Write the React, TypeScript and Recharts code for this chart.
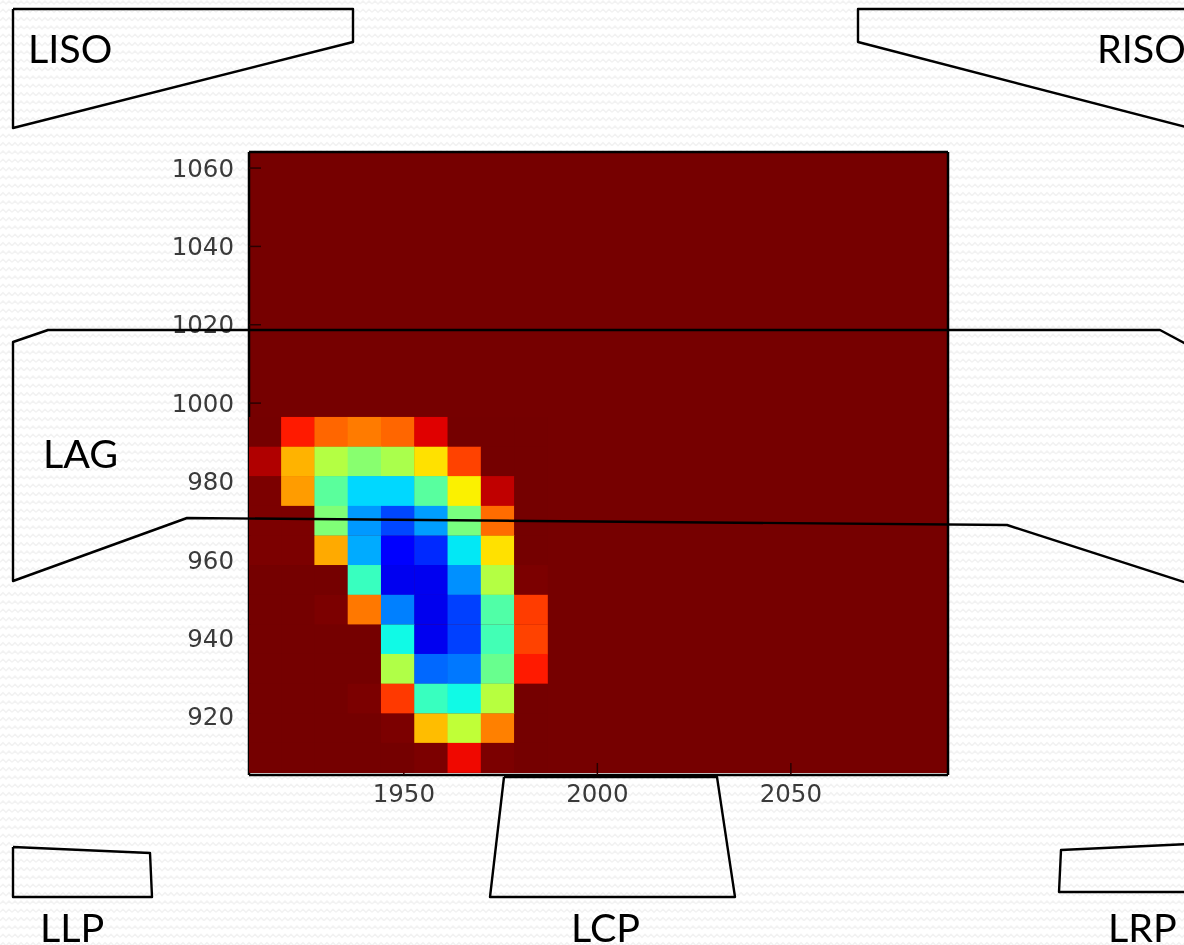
import { ScatterChart, Scatter, XAxis, YAxis, ReferenceArea } from "recharts";

const X_TICKS = [1950, 2000, 2050];
const Y_TICKS = [920, 940, 960, 980, 1000, 1020, 1040, 1060];

// bin centres of the part of the grid that isn't flat background
const X_BINS = [1914.0, 1922.6, 1931.2, 1939.8, 1948.4, 1957.0, 1965.6, 1974.2, 1982.8];
const Y_BINS = [992.7, 985.1, 977.6, 970.0, 962.4, 954.9, 947.3, 939.7, 932.2, 924.6, 917.0, 909.5];

// normalised values, one row per Y_BINS entry (1 is the dark red background)
const HEAT = [
  [1, 0.883, 0.802, 0.78, 0.802, 0.915, 1, 1, 1],
  [0.953, 0.72, 0.569, 0.515, 0.557, 0.672, 0.84, 1, 1],
  [0.995, 0.745, 0.46, 0.337, 0.337, 0.457, 0.655, 0.94, 1],
  [0.995, 0.995, 0.505, 0.275, 0.195, 0.28, 0.496, 0.796, 1],
  [0.995, 0.995, 0.73, 0.293, 0.12, 0.165, 0.352, 0.672, 1],
  [1, 1, 1, 0.418, 0.097, 0.097, 0.266, 0.569, 0.995],
  [1, 1, 0.995, 0.783, 0.25, 0.095, 0.1875, 0.447, 0.846],
  [1, 1, 1, 1, 0.37, 0.097, 0.1875, 0.43, 0.84],
  [1, 1, 1, 1, 0.564, 0.227, 0.243, 0.477, 0.883],
  [1, 1, 1, 0.995, 0.85, 0.418, 0.37, 0.573, 1],
  [1, 1, 1, 1, 0.995, 0.71, 0.583, 0.775, 1],
  [1, 1, 1, 1, 1, 0.995, 0.902, 0.995, 1],
];

const cells = HEAT.flatMap((row, r) =>
  row.map((v, c) => ({ x: X_BINS[c], y: Y_BINS[r], v }))
);

const CELL_W = 33.3;
const CELL_H = 29.52;

const lerp = (v: number, a: number, b: number) => Math.min(1, Math.max(0, (v - a) / (b - a)));

// matplotlib jet, ending on the darker red of the picture
function jet(v: number) {
  let red = lerp(v, 0.35, 0.66);
  if (v > 0.89) red = 1 - lerp(v, 0.89, 1) * 0.54;
  let green = lerp(v, 0.125, 0.375);
  if (v > 0.64) green = 1 - lerp(v, 0.64, 0.91);
  let blue = 0.5 + lerp(v, 0, 0.11) * 0.5;
  if (v > 0.34) blue = 1 - lerp(v, 0.34, 0.65);
  return `rgb(${Math.round(red * 255)},${Math.round(green * 255)},${Math.round(blue * 255)})`;
}

const HeatCell = (props: any) => (
  <rect
    x={props.cx - CELL_W / 2}
    y={props.cy - CELL_H / 2}
    width={CELL_W + 0.4}
    height={CELL_H + 0.4}
    fill={jet(props.payload.v)}
  />
);

const TICK_STYLE = { fontSize: 24.5, fill: "#3a3a3a", fontFamily: "DejaVu Sans" };
const TICK_LINE = { stroke: "#2a0000", strokeWidth: 1.5 };

const OUTLINES = [
  "13,9 353,9 353,42 13,128 13,9",
  "1190,9 858,9 858,42 1190,128",
  "1190,346 1160,330 48,330 13,342 13,581 187,518 1007,525 1190,584",
  "13,847 150,853 152,897 13,897 13,847",
  "504,777 717,777 735,897 490,897 504,777",
  "1190,844 1061,850 1059,892 1190,892",
];

const LABELS = [
  { text: "LISO", x: 28, y: 63 },
  { text: "RISO", x: 1097, y: 63 },
  { text: "LAG", x: 43, y: 468 },
  { text: "LLP", x: 40, y: 942 },
  { text: "LCP", x: 571, y: 942 },
  { text: "LRP", x: 1108, y: 942 },
];

const WAVE_ROWS = [4, 12.33, 20.67];

export default function App() {
  return (
    <div style={{ position: "fixed", left: 0, top: 0, width: 1184, height: 945, overflow: "hidden", background: "#fff" }}>
      <svg width={1184} height={945} style={{ position: "absolute", left: 0, top: 0 }}>
        <defs>
          <pattern id="wavy" width={12} height={25} patternUnits="userSpaceOnUse">
            {WAVE_ROWS.map((y) => (
              <path
                key={y}
                d={`M0 ${y} L3 ${y - 3} L6 ${y} L9 ${y - 3} L12 ${y}`}
                fill="none"
                stroke="#f2f2f2"
                strokeWidth={1.5}
              />
            ))}
          </pattern>
        </defs>
        <rect width={1184} height={945} fill="url(#wavy)" />
      </svg>

      <div style={{ position: "absolute", left: 0, top: 0, filter: "blur(0.5px)" }}>
        <ScatterChart
          width={1184}
          height={945}
          margin={{ left: 189, right: 235, top: 151, bottom: 130 }}
        >
          <XAxis
            dataKey="x"
            type="number"
            domain={[1910, 2090.6]}
            ticks={X_TICKS}
            height={40}
            tickSize={-12}
            tickMargin={22}
            tick={TICK_STYLE}
            tickLine={TICK_LINE}
            stroke="#000"
            strokeWidth={2.5}
            allowDataOverflow
          />
          <YAxis
            dataKey="y"
            type="number"
            domain={[905.07, 1064.1]}
            ticks={Y_TICKS}
            width={60}
            tickSize={-12}
            tickMargin={27}
            tick={TICK_STYLE}
            tickLine={TICK_LINE}
            stroke="#000"
            strokeWidth={2.5}
            allowDataOverflow
          />
          <XAxis
            xAxisId="top"
            dataKey="x"
            orientation="top"
            type="number"
            domain={[1910, 2090.6]}
            ticks={X_TICKS}
            height={1}
            tickSize={-12}
            tick={false}
            tickLine={TICK_LINE}
            stroke="#000"
            strokeWidth={2.5}
          />
          <YAxis
            yAxisId="right"
            dataKey="y"
            orientation="right"
            type="number"
            domain={[905.07, 1064.1]}
            ticks={Y_TICKS}
            width={1}
            tickSize={-12}
            tick={false}
            tickLine={TICK_LINE}
            stroke="#000"
            strokeWidth={2.5}
          />
          <ReferenceArea x1={1910} x2={2090.6} y1={905.6} y2={1064.1} fill="#760000" fillOpacity={1} stroke="none" />
          <Scatter data={cells} shape={HeatCell} isAnimationActive={false} />
          {/* keeps the mirrored top and right axes alive */}
          <Scatter xAxisId="top" yAxisId="right" data={cells} shape={() => null} isAnimationActive={false} />
        </ScatterChart>
      </div>

      {/* region outlines sit on top of the plot */}
      <svg width={1184} height={945} style={{ position: "absolute", left: 0, top: 0, filter: "blur(0.4px)" }}>
        {OUTLINES.map((pts) => (
          <polyline key={pts} points={pts} fill="none" stroke="#000" strokeWidth={2.4} strokeLinejoin="round" />
        ))}
        {LABELS.map((l) => (
          <text key={l.text} x={l.x} y={l.y} fontFamily="Lato" fontSize={39.5} fill="#000">
            {l.text}
          </text>
        ))}
      </svg>
    </div>
  );
}
